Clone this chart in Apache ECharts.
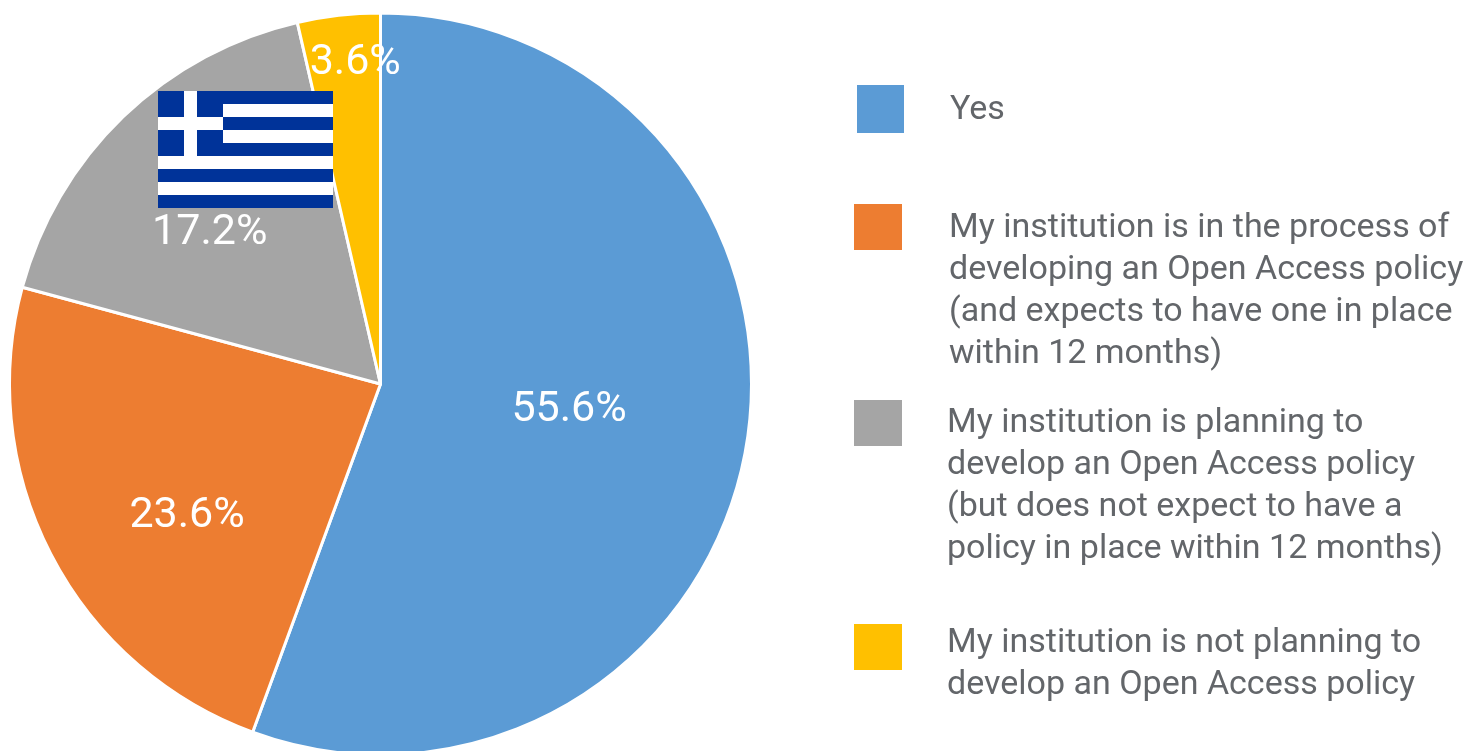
<!DOCTYPE html>
<html>
<head>
<meta charset="utf-8">
<style>
  html, body { margin: 0; padding: 0; background: #fff; }
  #chart { width: 1470px; height: 751px; }
</style>
</head>
<body>
<div id="chart"></div>
<script src="https://cdn.jsdelivr.net/npm/echarts@6/dist/echarts.min.js"></script>
<script>
const categories = [
  'Yes',
  'My institution is in the process of\ndeveloping an Open Access policy\n(and expects to have one in place\nwithin 12 months)',
  'My institution is planning to\ndevelop an Open Access policy\n(but does not expect to have a\npolicy in place within 12 months)',
  'My institution is not planning to\ndevelop an Open Access policy'
];
const shares = [55.6, 23.6, 17.2, 3.6];
const colors = ['#5B9BD5', '#ED7D31', '#A5A5A5', '#FFC000'];

const fontFamily = 'Roboto, "Open Sans", sans-serif';
const textColor = '#63666A';
const labelNudge = [[3, -7], [-26, 46], [-40, -15], [-4, -133]];
const swatches = [[857, 85, 47, 48], [854, 204, 48, 46], [854, 400, 48, 46], [854, 624, 48, 46]];
const legendText = [[950, 108], [949, 226], [947, 421], [947, 641]];

// flag that sits over the grey slice
const flagBlue = '#003399';
const flag = { x: 158, y: 91, w: 175, stripe: 13 };

const flagParts = () => {
  const parts = [];
  for (let i = 0; i < 9; i++) {
    parts.push({
      type: 'rect',
      z: 10,
      shape: { x: flag.x, y: flag.y + i * flag.stripe, width: flag.w, height: flag.stripe },
      style: { fill: i % 2 ? '#fff' : flagBlue }
    });
  }
  const canton = flag.stripe * 5;
  parts.push(
    { type: 'rect', z: 10, shape: { x: flag.x, y: flag.y, width: canton, height: canton }, style: { fill: flagBlue } },
    { type: 'rect', z: 10, shape: { x: flag.x + flag.stripe * 2, y: flag.y, width: flag.stripe, height: canton }, style: { fill: '#fff' } },
    { type: 'rect', z: 10, shape: { x: flag.x, y: flag.y + flag.stripe * 2, width: canton, height: flag.stripe }, style: { fill: '#fff' } }
  );
  return parts;
};

const legendParts = () => {
  const parts = [];
  categories.forEach((name, i) => {
    const [x, y, width, height] = swatches[i];
    parts.push({ type: 'rect', shape: { x, y, width, height }, style: { fill: colors[i] } });
    parts.push({
      type: 'text',
      x: legendText[i][0],
      y: legendText[i][1] - 19,
      style: {
        text: name,
        fill: textColor,
        font: '34px ' + fontFamily,
        lineHeight: 42,
        verticalAlign: 'top'
      }
    });
  });
  return parts;
};

const chart = echarts.init(document.getElementById('chart'), null, { renderer: 'canvas' });
chart.setOption({
  animation: false,
  backgroundColor: '#fff',
  series: [
    {
      type: 'pie',
      center: [380.5, 384],
      radius: [0, 371],
      startAngle: 90,
      clockwise: true,
      silent: true,
      itemStyle: { borderColor: '#fff', borderWidth: 3 },
      labelLine: { show: false },
      label: {
        show: true,
        position: 'inside',
        color: '#fff',
        fontFamily,
        fontSize: 43,
        formatter: params => params.value.toFixed(1) + '%'
      },
      data: categories.map((name, i) => ({
        name,
        value: shares[i],
        itemStyle: { color: colors[i] },
        label: { offset: labelNudge[i] }
      }))
    }
  ],
  graphic: {
    elements: [
      { type: 'group', silent: true, children: flagParts() },
      { type: 'group', silent: true, children: legendParts() }
    ]
  }
});
</script>
</body>
</html>
